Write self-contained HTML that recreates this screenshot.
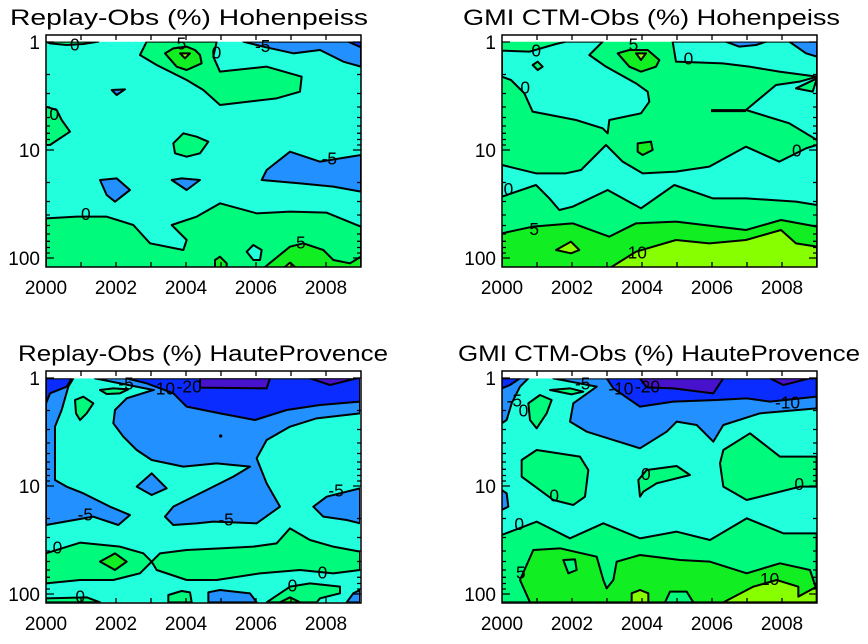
<!DOCTYPE html>
<html><head><meta charset="utf-8"><style>
body{margin:0;background:#fff}
svg{display:block}
text{font-family:"Liberation Sans",Arial,sans-serif;fill:#000}
.c{fill:#22ffdd}.g{fill:#00fa7c}.b{fill:#11ee22}.y{fill:#88ff00}.m{fill:#2290ff}.d{fill:#0a2cff}.p{fill:#4812cc}
g.s polygon{stroke:#000;stroke-width:6;stroke-linejoin:round}
g.s text{font-size:52px}
</style></head><body>
<svg width="868" height="644" viewBox="0 0 868 644" xmlns="http://www.w3.org/2000/svg">
<defs>
<clipPath id="k1"><rect x="138" y="35" width="945" height="675"/></clipPath>
<clipPath id="k3"><rect x="138" y="55" width="942" height="672"/></clipPath>
<clipPath id="k4"><rect x="185" y="55" width="945" height="672"/></clipPath>
<g id="tk" stroke="#000" stroke-width="1.3" fill="none">
<rect x="0" y="0" width="315" height="232" stroke-width="1.5"/>
<path d="M0,7h8M0,115h8M0,223h8M0,39.5h4M0,58.5h4M0,72h4M0,82.5h4M0,91h4M0,98.3h4M0,104.5h4M0,110h4M0,147.5h4M0,166.5h4M0,180h4M0,190.5h4M0,199h4M0,206.3h4M0,212.5h4M0,218h4
M315,7h-8M315,115h-8M315,223h-8M315,39.5h-4M315,58.5h-4M315,72h-4M315,82.5h-4M315,91h-4M315,98.3h-4M315,104.5h-4M315,110h-4M315,147.5h-4M315,166.5h-4M315,180h-4M315,190.5h-4M315,199h-4M315,206.3h-4M315,212.5h-4M315,218h-4
M35,232v-5M70,232v-5M105,232v-5M140,232v-5M175,232v-5M210,232v-5M245,232v-5M280,232v-5
M35,0v5M70,0v5M105,0v5M140,0v5M175,0v5M210,0v5M245,0v5M280,0v5"/>
</g>
</defs>

<!-- Panel 1 -->
<g class="s" transform="translate(0,30) scale(0.33333)">
<g clip-path="url(#k1)">
<rect class="c" x="138" y="35" width="945" height="675"/>
<polygon class="g" points="138,35 295,35 250,42 200,45 150,40"/>
<polygon class="g" points="440,35 420,75 470,105 560,150 610,180 660,225 830,205 900,185 905,140 800,110 660,125 640,80 650,35"/>
<polygon class="b" points="495,70 520,55 560,50 585,60 600,75 605,100 560,120 530,110"/>
<polygon class="y" points="540,70 570,70 555,85"/>
<polygon class="m" points="730,35 790,50 880,70 960,60 1030,95 1083,110 1083,35"/>
<polygon class="d" points="1045,35 1083,35 1083,52"/>
<polygon class="m" points="335,180 375,178 350,195"/>
<polygon class="g" points="138,230 170,240 185,270 210,305 180,325 150,345 138,345"/>
<polygon class="g" points="520,340 550,310 590,320 625,335 600,370 560,380 525,370"/>
<polygon class="m" points="300,450 350,445 390,480 345,515 320,495"/>
<polygon class="m" points="515,450 545,445 600,450 560,480"/>
<polygon class="m" points="785,450 800,420 870,365 960,395 1083,375 1083,485 1000,470 900,460"/>
<polygon class="g" points="138,565 230,560 320,560 400,585 450,640 550,660 560,630 515,585 590,560 660,520 770,550 870,545 980,548 1083,590 1083,715 138,715"/>
<polygon class="c" points="740,665 760,645 785,660 780,690 760,690"/>
<polygon class="b" points="645,690 660,680 680,700 680,715 645,715"/>
<polygon class="b" points="790,715 870,650 910,640 970,660 1000,690 1050,700 1083,680 1083,715"/>
<polygon class="y" points="850,715 870,698 890,715"/>
</g>
<text x="210" y="62">0</text><text x="530" y="58">5</text><text x="635" y="86">0</text><text x="765" y="66">-5</text><text x="148" y="270">0</text><text x="965" y="404">-5</text><text x="243" y="570">0</text><text x="888" y="656">5</text>
</g>
<use href="#tk" x="46" y="35"/>

<!-- Panel 2 -->
<g class="s" transform="translate(456,30) scale(0.33333)">
<g clip-path="url(#k1)">
<rect class="g" x="138" y="35" width="945" height="675"/>
<polygon class="c" points="138,62 220,65 300,42 330,35 440,35 400,75 450,110 540,160 575,185 580,215 555,250 460,270 455,310 440,295 360,270 230,245 205,190 165,150 138,140"/>
<polygon class="g" points="230,105 245,95 260,110 245,120"/>
<polygon class="b" points="485,70 520,60 575,60 610,90 600,110 555,125 520,110"/>
<polygon class="y" points="540,70 570,70 555,90"/>
<polygon class="c" points="650,35 660,95 800,100 880,110 970,125 1083,140 1083,35"/>
<polygon class="m" points="810,35 850,50 900,45 930,35"/>
<polygon class="m" points="1000,35 1050,70 1083,80 1083,35"/>
<polygon class="c" points="870,240 960,165 1030,155 1083,140 1083,330 1000,280"/>
<polygon class="g" points="1020,175 1083,145 1070,185"/>
<polygon class="c" points="138,405 240,430 330,430 375,420 450,345 500,395 560,430 660,425 760,410 870,350 970,395 1050,355 1083,345 1083,525 1020,515 870,505 770,505 655,465 555,535 455,480 350,530 310,540 280,505 240,465 138,500"/>
<polygon class="b" points="138,610 230,590 350,580 460,620 540,580 660,575 870,600 975,570 1083,590 1083,715 138,715"/>
<polygon class="y" points="460,715 540,665 660,630 760,640 870,630 975,600 1020,640 1083,650 1083,715"/>
<polygon class="y" points="300,660 345,635 370,660 345,670"/>
<polygon class="b" points="545,340 585,335 590,360 560,375 545,365"/>
<line x1="765" y1="242" x2="870" y2="242" stroke="#000" stroke-width="9"/>
</g>
<text x="226" y="80">0</text><text x="518" y="62">5</text><text x="683" y="104">0</text><text x="193" y="190">0</text><text x="1008" y="380">0</text><text x="143" y="495">0</text><text x="220" y="615">5</text><text x="515" y="685">10</text>
</g>
<use href="#tk" x="502" y="35"/>

<!-- Panel 3 -->
<g class="s" transform="translate(0,360) scale(0.33333)">
<g clip-path="url(#k3)">
<rect class="c" x="138" y="55" width="942" height="672"/>
<polygon class="m" points="138,55 220,55 205,80 185,150 165,200 165,360 200,380 250,400 330,440 390,465 355,495 280,470 138,495"/>
<polygon class="d" points="138,55 215,55 200,80 150,100 138,130"/>
<polygon class="m" points="285,55 460,90 380,115 345,150 340,190 370,230 410,270 455,300 550,320 650,310 750,320 700,350 620,390 520,440 495,470 520,495 590,490 640,485 770,490 840,440 800,370 770,295 800,240 870,200 950,175 1080,160 1080,55"/>
<polygon class="d" points="380,55 440,70 520,100 560,140 660,160 765,180 860,150 960,135 1080,125 1080,55"/>
<polygon class="p" points="600,55 600,83 800,85 810,55"/>
<polygon class="p" points="930,55 990,75 1070,55"/>
<polygon class="g" points="225,120 250,110 280,130 260,160 240,180 228,160"/>
<polygon class="g" points="300,90 340,85 385,88 360,100 320,102"/>
<polygon class="m" points="410,380 455,340 500,385 455,405"/>
<polygon class="m" points="940,440 980,410 1080,385 1080,490 1040,480 970,470"/>
<polygon class="g" points="138,580 240,548 360,560 430,580 455,605 420,640 340,660 240,660 138,670"/>
<polygon class="b" points="300,605 345,580 380,605 345,630"/>
<polygon class="g" points="455,605 480,580 560,570 660,565 760,560 830,550 870,505 930,540 1000,560 1080,575 1080,630 1000,640 900,630 780,640 650,660 560,660 470,630"/>
<polygon class="g" points="800,727 870,680 930,670 1020,680 1020,700 960,715 950,727"/>
<polygon class="b" points="840,727 870,712 900,727"/>
<polygon class="g" points="505,705 545,693 570,697 575,727 505,727"/>
<polygon class="m" points="625,697 660,690 750,700 770,727 625,727"/>
<polygon class="g" points="138,715 260,712 300,727 138,727"/>
<polygon class="m" points="1060,700 1080,690 1080,727 1040,727"/>
<circle cx="662" cy="228" r="5"/>
</g>
<text x="355" y="88">-5</text><text x="450" y="104">-10</text><text x="530" y="98">-20</text><text x="233" y="482">-5</text><text x="655" y="497">-5</text><text x="985" y="410">-5</text><text x="158" y="580">0</text><text x="953" y="655">0</text><text x="863" y="695">0</text><text x="226" y="727">0</text>
</g>
<use href="#tk" x="46" y="371"/>

<!-- Panel 4 -->
<g class="s" transform="translate(440,360) scale(0.33333)">
<g clip-path="url(#k4)">
<rect class="c" x="185" y="55" width="945" height="672"/>
<polygon class="m" points="470,80 400,130 390,185 440,215 600,265 680,215 710,185 770,195 820,245 850,195 960,160 1130,145 1130,55 340,55"/>
<polygon class="m" points="185,55 265,55 240,80 215,130 200,180 185,190"/>
<polygon class="d" points="500,55 520,85 600,140 700,125 830,120 920,115 990,125 1130,110 1130,55"/>
<polygon class="d" points="185,55 240,55 210,75 185,85"/>
<polygon class="p" points="600,55 620,82 700,85 820,100 850,55"/>
<polygon class="p" points="990,55 1030,75 1110,55"/>
<polygon class="g" points="330,90 390,85 430,95 395,103"/>
<polygon class="g" points="265,130 300,105 335,120 320,160 290,205 270,180"/>
<polygon class="g" points="245,300 290,270 420,290 445,330 435,410 400,435 340,420 245,350"/>
<polygon class="g" points="595,360 620,330 710,318 750,345 650,370 610,395 600,410"/>
<polygon class="g" points="840,310 850,270 930,220 1020,290 1130,290 1130,380 1080,380 920,420 850,380"/>
<polygon class="m" points="185,390 200,400 205,440 185,450"/>
<polygon class="g" points="185,525 290,485 390,535 490,490 600,535 710,515 810,540 920,475 1030,520 1130,520 1130,727 185,727"/>
<polygon class="b" points="270,727 240,660 280,570 360,565 470,590 490,660 500,685 520,660 530,605 600,585 720,600 810,605 920,640 1020,610 1110,630 1130,690 1130,727"/>
<polygon class="g" points="370,600 405,598 410,630 385,640"/>
<polygon class="y" points="850,727 940,680 1010,660 1075,680 1075,710 1130,680 1130,727"/>
<polygon class="y" points="575,700 600,690 625,700 625,727 575,727"/>
<polygon class="g" points="675,727 690,695 740,695 760,727"/>
</g>
<text x="405" y="88">-5</text><text x="505" y="104">-10</text><text x="585" y="98">-20</text><text x="1005" y="145">-10</text><text x="200" y="140">-5</text><text x="236" y="170">0</text><text x="603" y="360">0</text><text x="328" y="425">0</text><text x="1063" y="390">0</text><text x="223" y="510">0</text><text x="228" y="655">5</text><text x="960" y="675">10</text>
</g>
<use href="#tk" x="502" y="371"/>

<!-- Titles -->
<text x="10" y="25" font-size="22" textLength="358" lengthAdjust="spacingAndGlyphs">Replay-Obs (%) Hohenpeiss</text>
<text x="463" y="25" font-size="22" textLength="377" lengthAdjust="spacingAndGlyphs">GMI CTM-Obs (%) Hohenpeiss</text>
<text x="18" y="361" font-size="22" textLength="370" lengthAdjust="spacingAndGlyphs">Replay-Obs (%) HauteProvence</text>
<text x="458" y="361" font-size="22" textLength="402" lengthAdjust="spacingAndGlyphs">GMI CTM-Obs (%) HauteProvence</text>

<!-- Axis labels -->
<g font-size="19" text-anchor="end">
<text x="40" y="49">1</text><text x="40" y="157">10</text><text x="40" y="265">100</text>
<text x="496" y="49">1</text><text x="496" y="157">10</text><text x="496" y="265">100</text>
<text x="40" y="385">1</text><text x="40" y="493">10</text><text x="40" y="601">100</text>
<text x="496" y="385">1</text><text x="496" y="493">10</text><text x="496" y="601">100</text>
</g>
<g font-size="19" text-anchor="middle">
<text x="46" y="294">2000</text><text x="116" y="294">2002</text><text x="186" y="294">2004</text><text x="256" y="294">2006</text><text x="326" y="294">2008</text>
<text x="502" y="294">2000</text><text x="572" y="294">2002</text><text x="642" y="294">2004</text><text x="712" y="294">2006</text><text x="782" y="294">2008</text>
<text x="46" y="630">2000</text><text x="116" y="630">2002</text><text x="186" y="630">2004</text><text x="256" y="630">2006</text><text x="326" y="630">2008</text>
<text x="502" y="630">2000</text><text x="572" y="630">2002</text><text x="642" y="630">2004</text><text x="712" y="630">2006</text><text x="782" y="630">2008</text>
</g>
</svg>
</body></html>
